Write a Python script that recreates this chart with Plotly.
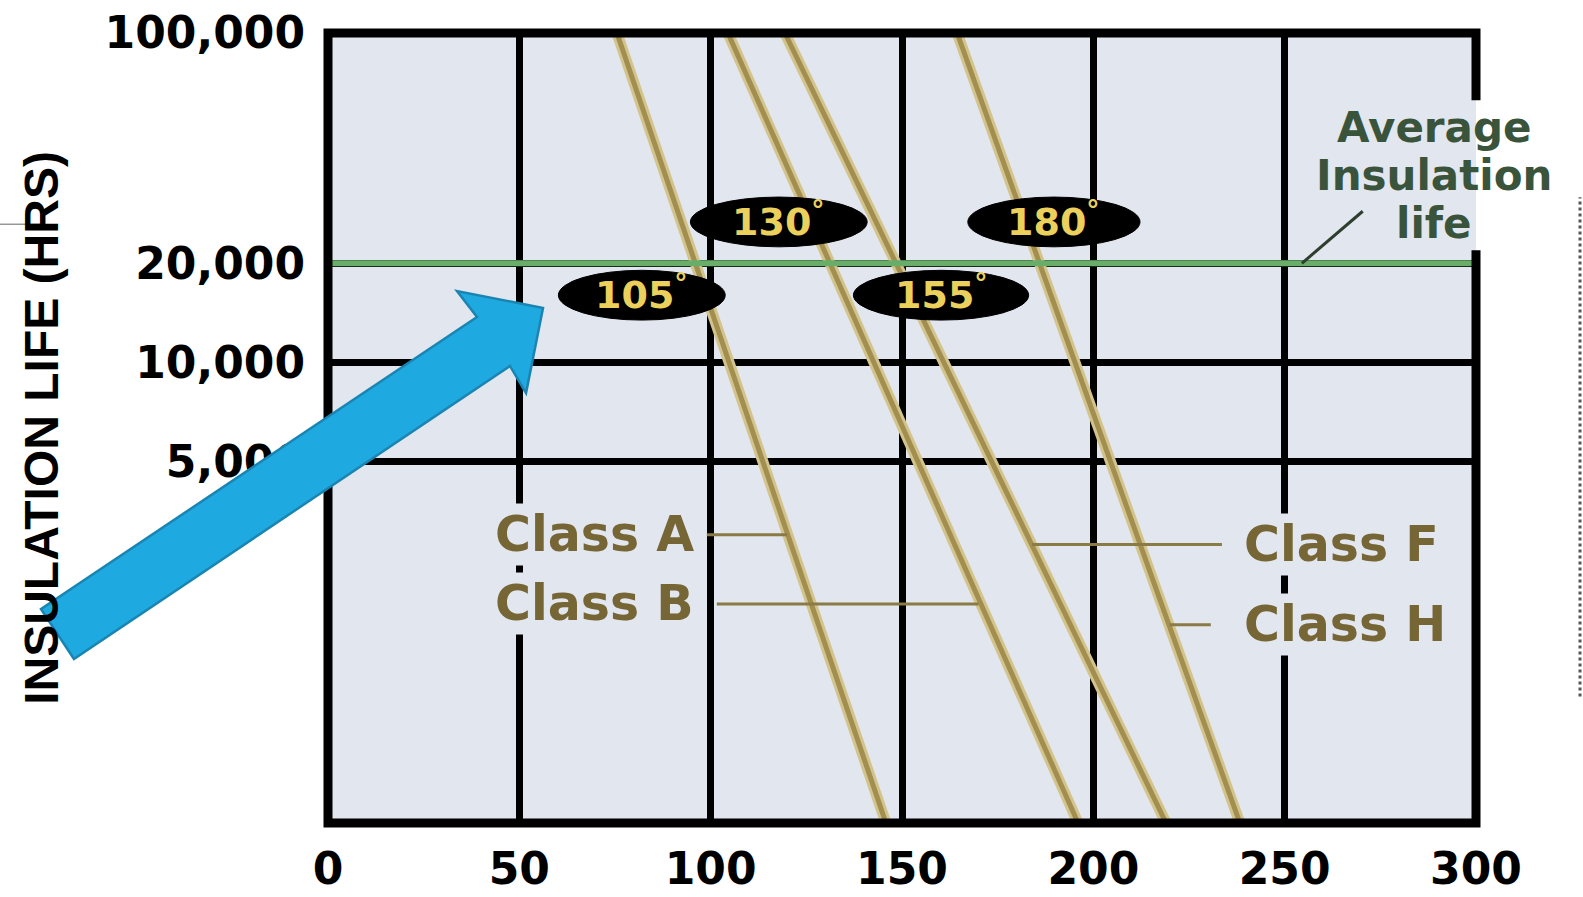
import numpy as np
import plotly.graph_objects as go

# ---------------- data ----------------
temp_ticks = [0, 50, 100, 150, 200, 250, 300]
temp_tick_labels = ["0", "50", "100", "150", "200", "250", "300"]
life_ticks = [5000, 10000, 20000, 100000]
life_tick_labels = ["5,000", "10,000", "20,000", "100,000"]

classes = ["Class A", "Class B", "Class F", "Class H"]
class_temps = ["105", "130", "155", "180"]
line_life = [100000, 400]                         # hours at top / bottom of chart
line_temp_top = [75.5, 104.5, 119.4, 164.4]       # temperature where each line leaves 100,000 h
line_temp_bottom = [145.8, 196.0, 219.0, 238.3]   # temperature where each line reaches 400 h

avg_life = 20000                                  # "Average insulation life"

# label placement (decoration)
class_label_life = [3000, 1850, 2800, 1600]
class_label_x = [96.4, 96.4, 238.5, 238.5]
class_label_side = ["right", "right", "left", "left"]
leader_x0 = [99.0, 101.6, 184.0, 220.0]
leader_x1 = [120.0, 170.0, 233.6, 230.7]

badge_x = [82.0, 117.8, 160.2, 189.7]
badge_life = [16000, 26700, 16000, 26700]
badge_half_w = [21.8, 23.1, 22.9, 22.5]
badge_h_factor = 1.19

avg_text = ["Average", "Insulation", "life"]
avg_text_life = [51700, 37000, 26450]
avg_leader_x = [254.5, 270.4]
avg_leader_life = [20000, 28770]

BG = "#e2e6ee"
LINE_OUT = "#d3c48e"
LINE_IN = "#a28e4f"
CLASS_TXT = "#766535"
GREEN = "#68ae68"

BOLD = dict(family="DejaVu Sans", weight="bold")

fig = go.Figure()

# insulation class lines
for i, name in enumerate(classes):
    xs = [line_temp_top[i], line_temp_bottom[i]]
    fig.add_trace(go.Scatter(x=xs, y=line_life, mode="lines",
                             line=dict(color=LINE_OUT, width=11),
                             showlegend=False, hoverinfo="skip"))
    fig.add_trace(go.Scatter(x=xs, y=line_life, mode="lines",
                             line=dict(color=LINE_IN, width=5),
                             name=name, showlegend=False))

# leader lines for class labels
for i in range(len(classes)):
    fig.add_trace(go.Scatter(x=[leader_x0[i], leader_x1[i]],
                             y=[class_label_life[i]] * 2, mode="lines",
                             line=dict(color="#8a7a45", width=3),
                             showlegend=False, hoverinfo="skip"))

# average insulation life line
fig.add_trace(go.Scatter(x=[0, 300], y=[avg_life, avg_life], mode="lines",
                         line=dict(color=GREEN, width=6),
                         name="Average insulation life", showlegend=False))
fig.add_trace(go.Scatter(x=avg_leader_x, y=avg_leader_life, mode="lines",
                         line=dict(color="#2e3e2e", width=3),
                         showlegend=False, hoverinfo="skip"))

shapes = []
# plot frame with a gap on the right where the note sits
shapes.append(dict(type="path", xref="paper", yref="paper", layer="above",
                   path="M 1,0.7250 L 1,0 L 0,0 L 0,1 L 1,1 L 1,0.9150",
                   line=dict(color="black", width=9)))
# temperature badges
for i in range(len(class_temps)):
    shapes.append(dict(type="circle", xref="x", yref="y", layer="above",
                       x0=badge_x[i] - badge_half_w[i], x1=badge_x[i] + badge_half_w[i],
                       y0=badge_life[i] / badge_h_factor, y1=badge_life[i] * badge_h_factor,
                       fillcolor="black", line=dict(color="black", width=1)))
# big blue arrow
shapes.append(dict(type="path", xref="paper", yref="paper", layer="above",
                   path=("M -0.2500,0.2709 L 0.1298,0.6405 L 0.1124,0.6734 "
                         "L 0.1873,0.6519 L 0.1725,0.5443 L 0.1585,0.5785 "
                         "L -0.2213,0.2076 Z"),
                   fillcolor="#1eaae0", line=dict(color="#1a84b2", width=2.5)))
# slide artefacts
shapes.append(dict(type="line", xref="paper", yref="paper", layer="above",
                   x0=-0.2857, x1=-0.2509, y0=0.758, y1=0.758,
                   line=dict(color="#666666", width=1)))
shapes.append(dict(type="line", xref="paper", yref="paper", layer="above",
                   x0=1.0906, x1=1.0906, y0=0.160, y1=0.792,
                   line=dict(color="#555555", width=3, dash="dot")))

annotations = []
for i in range(len(class_temps)):
    annotations.append(dict(x=badge_x[i], y=np.log10(badge_life[i]), xref="x", yref="y",
                            text=class_temps[i] + "<sup>°</sup>", showarrow=False,
                            yshift=3,
                            font=dict(color="#ecd05c", size=38, **BOLD)))
for i, name in enumerate(classes):
    annotations.append(dict(x=class_label_x[i], y=np.log10(class_label_life[i]),
                            xref="x", yref="y", text=name, showarrow=False,
                            xanchor=class_label_side[i], bgcolor=BG, borderpad=2,
                            font=dict(color=CLASS_TXT, size=49, **BOLD)))
for t, v in zip(avg_text, avg_text_life):
    annotations.append(dict(x=289, y=np.log10(v), xref="x", yref="y", text=t,
                            showarrow=False,
                            font=dict(color="#3a543c", size=42, **BOLD)))

fig.update_layout(
    width=1583, height=897, autosize=False,
    margin=dict(l=328, r=107, t=33, b=74),
    paper_bgcolor="white", plot_bgcolor=BG,
    showlegend=False,
    shapes=shapes, annotations=annotations,
    xaxis=dict(range=[0, 300], tickvals=temp_ticks, ticktext=temp_tick_labels,
               showgrid=True, gridcolor="black", gridwidth=7, zeroline=False,
               showline=False, ticks="", ticklabelstandoff=16, automargin=False,
               tickfont=dict(color="black", size=44, **BOLD)),
    yaxis=dict(type="log", range=[np.log10(400), 5], tickvals=life_ticks,
               ticktext=life_tick_labels, showgrid=True, gridcolor="black",
               gridwidth=7, zeroline=False, showline=False, ticks="",
               ticklabelstandoff=22, automargin=False,
               tickfont=dict(color="black", size=44, **BOLD),
               title=dict(text="INSULATION LIFE (HRS)", standoff=30,
                          font=dict(family="Liberation Sans", weight="bold",
                                    size=48, color="black"))),
)

fig.write_html("out.html", include_plotlyjs=True, full_html=True,
               config={"displayModeBar": False},
               post_script="document.body.style.margin='0';document.body.style.overflow='hidden';")
